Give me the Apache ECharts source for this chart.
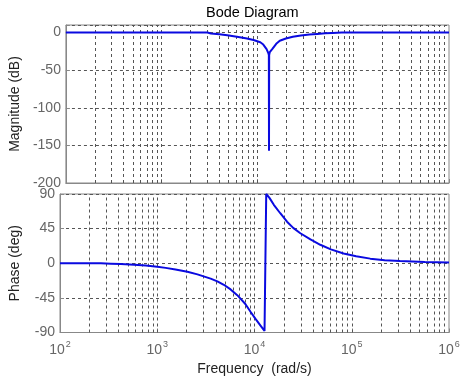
<!DOCTYPE html>
<html>
<head>
<meta charset="utf-8">
<script src="https://cdn.jsdelivr.net/npm/echarts@6/dist/echarts.min.js"></script>
<style>html,body{margin:0;padding:0;background:#fff;}#c{width:474px;height:378px;}</style>
</head>
<body>
<div id="c"></div>
<script>
// Magnitude (dB) vs frequency (rad/s)
const magFreq = [100, 1000, 3000, 3270, 4000, 4840, 6100, 7770, 9100, 10700, 11500, 12450, 12950, 13150, 13200, 13250, 13450, 14250, 14600, 15700, 17100, 19800, 23400, 28400, 34800, 42000, 51000, 61000, 76000, 1000000];
const magDb   = [0,   0,    0,    -1.3, -2.3, -3.5, -5.5, -8,   -10,  -13,   -16,   -22,   -27,   -30,   -157,  -30,   -26,   -22,   -20,   -15,   -11,   -8,    -5.7,  -4,    -2.6,  -1.8,  -1,    -0.5,  0,     0];
// Phase (deg) vs frequency (rad/s)
const phaseFreq = [100, 263, 333, 422, 578, 760, 1000, 1220, 1540, 2040, 2590, 3540, 4150, 4840, 5680, 6650, 7180, 8050, 9100, 10200, 11530, 12680, 13200, 13200, 14250, 15800, 18400, 21600, 25000, 29600, 37600, 47500, 61000, 82400, 111000, 155000, 218000, 314000, 564000, 1000000];
const phaseDeg  = [0,   0,   -0.5, -1, -2,  -3,  -4.5, -6,   -8,   -11,  -14.5, -20, -23.5, -28, -34,  -41.5, -46, -53,  -63,  -72,   -81,   -88,   -90,   90,    85,    76,    65,    54,    46,    39,    31,    24,    18,    12.6,  9,      6,      4,      3,      1.5,    1];
// Tick values
const magTicks = [-200, -150, -100, -50, 0];
const phaseTicks = [-90, -45, 0, 45, 90];
const gridFreqs = [];
[100, 1000, 10000, 100000].forEach(d => { for (let k = 1; k <= 9; k++) if (!(d === 100 && k === 1)) gridFreqs.push(d * k); });

const blue = '#0a0ae0';
const gridColor = '#555';
const boxColor = '#888';
const labelColor = '#666';
const dash = [3, 3];

function pairs(xs, ys) { return xs.map((x, i) => [x, ys[i]]); }

const chart = echarts.init(document.getElementById('c'), null, {renderer: 'canvas'});

function xAxisCfg(idx, showLabels) {
  return {
    type: 'log', logBase: 10, gridIndex: idx, min: 100, max: 1000000,
    axisLine: {show: true, onZero: false, lineStyle: {color: boxColor, width: 1}},
    axisTick: {show: true, inside: true, length: 4, lineStyle: {color: boxColor}},
    splitLine: {show: false},
    axisLabel: showLabels ? {
      show: true, margin: 8, color: labelColor,
      formatter: v => '{b|10}{s|' + Math.round(Math.log10(v)) + '}',
      rich: {
        b: {fontSize: 14, fontFamily: 'Arial, Liberation Sans', color: labelColor},
        s: {fontSize: 9, fontFamily: 'Arial, Liberation Sans', color: labelColor, padding: [0, 0, 11, 1]}
      }
    } : {show: false},
    name: showLabels ? 'Frequency  (rad/s)' : '',
    nameLocation: 'middle', nameGap: 30,
    nameTextStyle: {fontSize: 14, fontFamily: 'Arial, Liberation Sans', color: '#222'}
  };
}
function yAxisCfg(idx, min, max, interval, name, ticks) {
  return {
    type: 'value', gridIndex: idx, min: min, max: max, interval: interval,
    axisLine: {show: true, lineStyle: {color: boxColor, width: 1}},
    axisTick: {show: true, inside: true, length: 4, lineStyle: {color: boxColor}},
    splitLine: {show: true, lineStyle: {color: gridColor, type: dash, width: 1}},
    axisLabel: {
      show: true, margin: 5, color: labelColor, fontSize: 14, fontFamily: 'Arial, Liberation Sans',
      formatter: v => ticks.indexOf(v) >= 0 ? String(v) : ''
    },
    name: name, nameLocation: 'middle', nameGap: 38,
    nameTextStyle: {fontSize: 14, fontFamily: 'Arial, Liberation Sans', color: '#222'}
  };
}
function gridLines(idx) {
  return {
    type: 'line', xAxisIndex: idx, yAxisIndex: idx, data: [], z: 1, silent: true,
    markLine: {
      silent: true, symbol: ['none', 'none'], animation: false, label: {show: false},
      lineStyle: {color: gridColor, type: dash, width: 1},
      data: gridFreqs.map(f => ({xAxis: f}))
    }
  };
}

chart.setOption({
  animation: false,
  backgroundColor: '#fff',
  title: {
    text: 'Bode Diagram', left: 206, top: 5, padding: 0,
    textStyle: {fontSize: 14.5, fontWeight: 'normal', fontFamily: 'Arial, Liberation Sans', color: '#000'}
  },
  grid: [
    {left: 59, top: 25, width: 390, height: 158, show: true, borderColor: boxColor, borderWidth: 1, backgroundColor: 'transparent'},
    {left: 59, top: 194, width: 390, height: 138.5, show: true, borderColor: boxColor, borderWidth: 1, backgroundColor: 'transparent'}
  ],
  xAxis: [xAxisCfg(0, false), xAxisCfg(1, true)],
  yAxis: [
    yAxisCfg(0, -200, 10, 50, 'Magnitude (dB)', magTicks),
    yAxisCfg(1, -90, 90, 45, 'Phase (deg)', phaseTicks)
  ],
  series: [
    gridLines(0), gridLines(1),
    {type: 'line', xAxisIndex: 0, yAxisIndex: 0, data: pairs(magFreq, magDb), showSymbol: false, smooth: false,
     lineStyle: {color: blue, width: 2}, z: 5},
    {type: 'line', xAxisIndex: 1, yAxisIndex: 1, data: pairs(phaseFreq, phaseDeg), showSymbol: false, smooth: false,
     lineStyle: {color: blue, width: 2}, z: 5}
  ]
});
</script>
</body>
</html>
